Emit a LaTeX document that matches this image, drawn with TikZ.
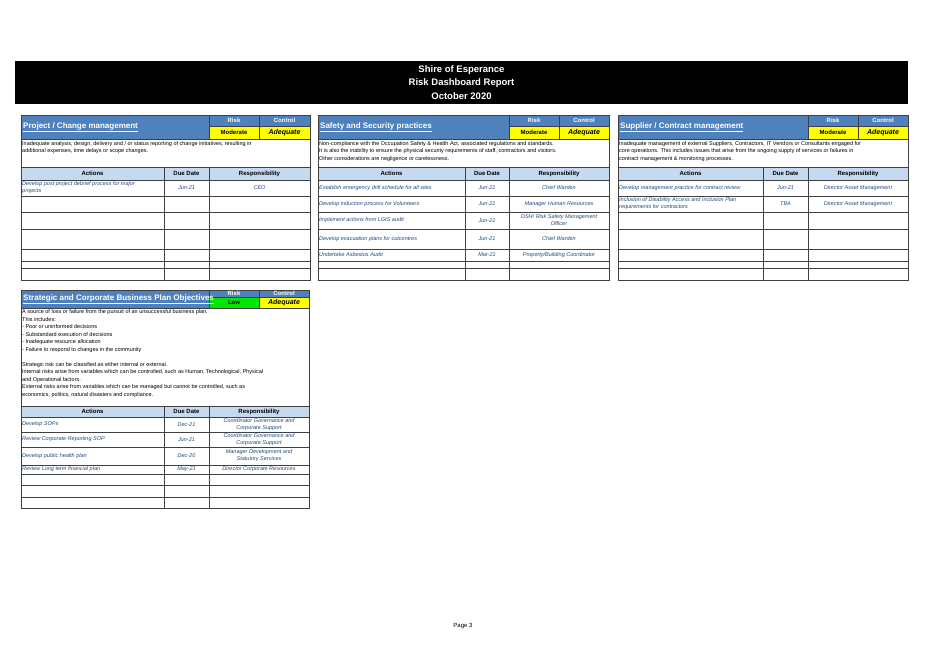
\documentclass[tikz,border=0pt]{standalone}
\usepackage{fontspec}
\setmainfont{Liberation Sans}
\definecolor{hdrblue}{RGB}{79,129,189}
\definecolor{colblue}{RGB}{197,217,241}
\definecolor{txtblue}{RGB}{31,73,125}
\definecolor{riskyellow}{RGB}{255,255,0}
\definecolor{riskgreen}{RGB}{0,230,0}

\begin{document}
\begin{tikzpicture}[x=1pt,y=-1pt,
    every node/.style={font=\fontsize{5.5}{7.5}\selectfont, inner sep=0pt},
    gridline/.style={draw=black!75, line width=0.6pt},
    panelhdr/.style={font=\fontsize{8}{9}\selectfont\bfseries, text=white, anchor=west},
    lbl/.style={font=\fontsize{6}{7}\selectfont\bfseries, text=white},
    val/.style={font=\fontsize{6}{7}\selectfont\bfseries},
    ctl/.style={font=\fontsize{7}{8}\selectfont\bfseries\itshape},
    colhdr/.style={font=\fontsize{6}{7}\selectfont\bfseries},
    desc/.style={anchor=north west, align=left},
    act/.style={anchor=west, align=left, text=txtblue, font=\fontsize{5.5}{7}\selectfont\itshape},
    cell/.style={align=center, text=txtblue, font=\fontsize{5.5}{7}\selectfont\itshape}]
    \useasboundingbox (0,0) rectangle (929,657);

    % title bar
    \fill[black] (15,61) rectangle (908,104);
    \node[font=\fontsize{9.5}{13.5}\selectfont\bfseries, text=white, align=center] (title) at (461.5,82.5)
        {Shire of Esperance\\Risk Dashboard Report\\October 2020};

    % ---- Project / Change management
    \fill[hdrblue] (21,115) rectangle (310,139);
    \fill[riskyellow] (209,126) rectangle (310,139);
    \fill[colblue] (21,167) rectangle (310,180);
    \draw[gridline] (21,115) rectangle (310,280);
    \draw[gridline] (209,115) -- (209,139) (259,115) -- (259,139) (209,126) -- (310,126) (21,139) -- (310,139);
    \draw[gridline] (164,167) -- (164,280) (209,167) -- (209,280);
    \foreach \y in {167,180,196,212,229,249,261,268} \draw[gridline] (21,\y) -- (310,\y);
    \node[panelhdr] (pcm) at (23,127) {\underline{Project / Change management}};
    \node[lbl] (pcmrisk) at (234,120.5) {Risk};
    \node[lbl] (pcmctl) at (284.5,120.5) {Control};
    \node[val] (pcmriskv) at (234,132.5) {Moderate};
    \node[ctl] (pcmctlv) at (284.5,132.5) {Adequate};
    \node[desc] (pcmdesc) at (22,141) {Inadequate analysis, design, delivery and / or status reporting of change initiatives, resulting in\\additional expenses, time delays or scope changes.};
    \node[colhdr] at (92.5,173.5) {Actions};
    \node[colhdr] at (186.5,173.5) {Due Date};
    \node[colhdr] at (259.5,173.5) {Responsibility};
    \node[act] at (22,188) {Develop post project debrief process for major\\projects};
    \node[cell] at (186.5,188) {Jun-21};
    \node[cell] at (259.5,188) {CEO};

    % ---- Safety and Security practices
    \fill[hdrblue] (318,115) rectangle (609,139);
    \fill[riskyellow] (509,126) rectangle (609,139);
    \fill[colblue] (318,167) rectangle (609,180);
    \draw[gridline] (318,115) rectangle (609,280);
    \draw[gridline] (509,115) -- (509,139) (559,115) -- (559,139) (509,126) -- (609,126) (318,139) -- (609,139);
    \draw[gridline] (465,167) -- (465,280) (509,167) -- (509,280);
    \foreach \y in {167,180,196,212,229,249,261,268} \draw[gridline] (318,\y) -- (609,\y);
    \node[panelhdr] (ssp) at (320,127) {\underline{Safety and Security practices}};
    \node[lbl] at (534,120.5) {Risk};
    \node[lbl] at (584,120.5) {Control};
    \node[val] at (534,132.5) {Moderate};
    \node[ctl] at (584,132.5) {Adequate};
    \node[desc] (sspdesc) at (319,141) {Non-compliance with the Occupation Safety \& Health Act, associated regulations and standards.\\It is also the inability to ensure the physical security requirements of staff, contractors and visitors.\\Other considerations are negligence or carelessness.};
    \node[colhdr] at (391.5,173.5) {Actions};
    \node[colhdr] at (487,173.5) {Due Date};
    \node[colhdr] at (559,173.5) {Responsibility};
    \node[act] at (319,188) {Establish emergency drill schedule for all sites};
    \node[act] at (319,204) {Develop induction process for Volunteers};
    \node[act] at (319,220.5) {Implement actions from LGIS audit};
    \node[act] at (319,239) {Develop evacuation plans for cutcentres};
    \node[act] at (319,255) {Undertake Asbestos Audit};
    \node[cell] at (487,188) {Jun-21};
    \node[cell] at (487,204) {Jun-21};
    \node[cell] at (487,220.5) {Jun-21};
    \node[cell] at (487,239) {Jun-21};
    \node[cell] at (487,255) {Mar-21};
    \node[cell] at (559,188) {Chief Warden};
    \node[cell] at (559,204) {Manager Human Resources};
    \node[cell] at (559,220.5) {OSH/ Risk Safety Management\\Officer};
    \node[cell] at (559,239) {Chief Warden};
    \node[cell] at (559,255) {Property/Building Coordinator};

    % ---- Supplier / Contract management
    \fill[hdrblue] (618,115) rectangle (908,139);
    \fill[riskyellow] (808,126) rectangle (908,139);
    \fill[colblue] (618,167) rectangle (908,180);
    \draw[gridline] (618,115) rectangle (908,280);
    \draw[gridline] (808,115) -- (808,139) (858,115) -- (858,139) (808,126) -- (908,126) (618,139) -- (908,139);
    \draw[gridline] (763,167) -- (763,280) (808,167) -- (808,280);
    \foreach \y in {167,180,196,212,229,249,261,268} \draw[gridline] (618,\y) -- (908,\y);
    \node[panelhdr] (scm) at (620,127) {\underline{Supplier / Contract management}};
    \node[lbl] at (833,120.5) {Risk};
    \node[lbl] at (883,120.5) {Control};
    \node[val] at (833,132.5) {Moderate};
    \node[ctl] at (883,132.5) {Adequate};
    \node[desc] (scmdesc) at (619,141) {Inadequate management of external Suppliers, Contractors, IT Vendors or Consultants engaged for\\core operations. This includes issues that arise from the ongoing supply of services or failures in\\contract management \& monitoring processes.};
    \node[colhdr] at (690.5,173.5) {Actions};
    \node[colhdr] at (785.5,173.5) {Due Date};
    \node[colhdr] at (858,173.5) {Responsibility};
    \node[act] at (619,188) {Develop management practice for contract review};
    \node[act] at (619,204) {Inclusion of Disability Access and Inclusion Plan\\requirements for contractors};
    \node[cell] at (785.5,188) {Jun-21};
    \node[cell] at (785.5,204) {TBA};
    \node[cell] at (858,188) {Director Asset Management};
    \node[cell] at (858,204) {Director Asset Management};

    % ---- Strategic and Corporate Business Plan Objectives
    \fill[hdrblue] (21,290) rectangle (309,308);
    \fill[riskgreen] (209,297) rectangle (259,308);
    \fill[riskyellow] (259,297) rectangle (309,308);
    \fill[colblue] (21,406) rectangle (309,417);
    \draw[gridline] (21,290) rectangle (309,508);
    \draw[gridline] (209,290) -- (209,308) (259,290) -- (259,308) (209,297) -- (309,297) (21,308) -- (309,308);
    \draw[gridline] (164,406) -- (164,508) (209,406) -- (209,508);
    \foreach \y in {406,417,432,447,465,474,485,497} \draw[gridline] (21,\y) -- (309,\y);
    \node[panelhdr] (scb) at (23,299) {\underline{Strategic and Corporate Business Plan Objectives}};
    \node[lbl] at (234,293.5) {Risk};
    \node[lbl] at (284,293.5) {Control};
    \node[val] at (234,302.5) {Low};
    \node[ctl] at (284,302.5) {Adequate};
    \node[desc] (scbdesc) at (22,309.5) {A source of loss or failure from the pursuit of an unsuccessful business plan.\\This includes:\\- Poor or uninformed decisions\\- Substandard execution of decisions\\- Inadequate resource allocation\\- Failure to respond to changes in the community\\[7.5pt]Strategic risk can be classified as either internal or external.\\Internal risks arise from variables which can be controlled, such as Human, Technological, Physical\\and Operational factors.\\External risks arise from variables which can be managed but cannot be controlled, such as\\economics, politics, natural disasters and compliance.};
    \node[colhdr] at (92.5,411.5) {Actions};
    \node[colhdr] at (186.5,411.5) {Due Date};
    \node[colhdr] at (259,411.5) {Responsibility};
    \node[act] at (22,424.5) {Develop SOPs};
    \node[act] at (22,439.5) {Review Corporate Reporting SOP};
    \node[act] at (22,456) {Develop public health plan};
    \node[act] at (22,469.5) {Review Long term financial plan};
    \node[cell] at (186.5,424.5) {Dec-21};
    \node[cell] at (186.5,439.5) {Jun-21};
    \node[cell] at (186.5,456) {Dec-20};
    \node[cell] at (186.5,469.5) {May-21};
    \node[cell] at (259,424.5) {Coordinator Governance and\\Corporate Support};
    \node[cell] at (259,439.5) {Coordinator Governance and\\Corporate Support};
    \node[cell] at (259,456) {Manager Development and\\Statutory Services};
    \node[cell] at (259,469.5) {Director Corporate Resources};

    \node[font=\fontsize{6}{7}\selectfont] (page) at (463,626) {Page 3};
\end{tikzpicture}
\end{document}
